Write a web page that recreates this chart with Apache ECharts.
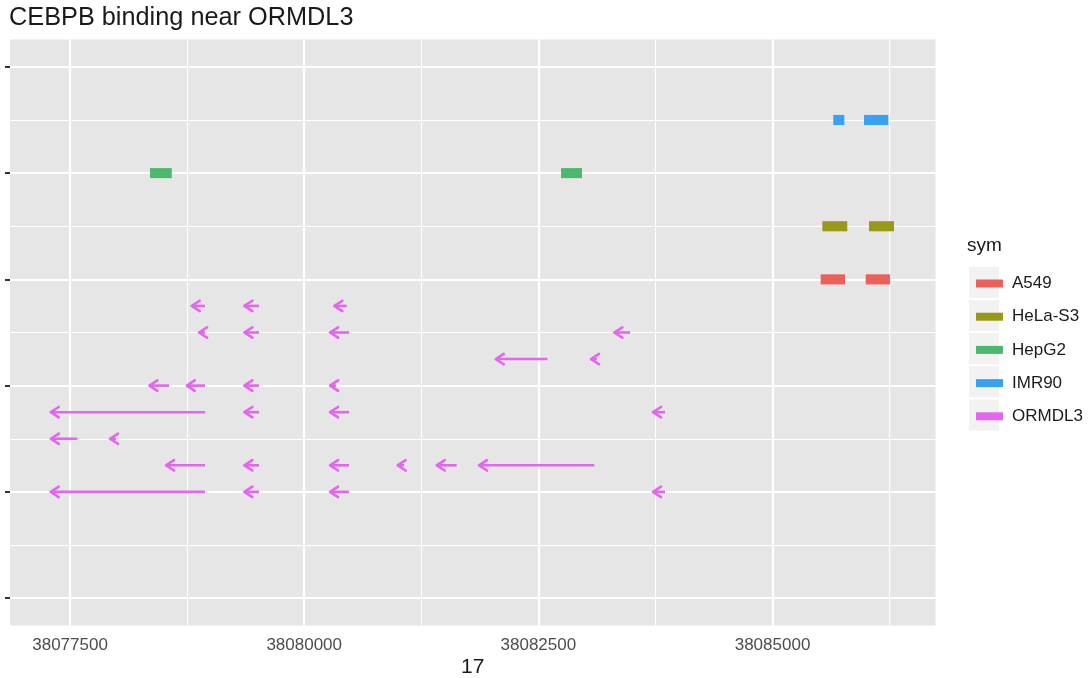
<!DOCTYPE html>
<html>
<head>
<meta charset="utf-8">
<script src="https://cdn.jsdelivr.net/npm/echarts@6/dist/echarts.min.js"></script>
<style>
html,body{margin:0;padding:0;background:#fff;}
#chart{width:1088px;height:678px;}
</style>
</head>
<body>
<div id="chart"></div>
<script>
// ---- data ----
const titleText = 'CEBPB binding near ORMDL3';
const xAxisName = '17';
const legendTitle = 'sym';
const seriesNames = ['A549', 'HeLa-S3', 'HepG2', 'IMR90', 'ORMDL3'];
const xTicks = [38077500, 38080000, 38082500, 38085000];
const xMinor = [38078750, 38081250, 38083750, 38086250];
const yMajor = [0, 4, 8, 12, 16, 20];
const yMinor = [2, 6, 10, 14, 18];
const xLimits = [38076859, 38086740];
const yLimits = [-1.03, 21.03];

// [start, end, row]
const a549 = [[38085514, 38085774, 12], [38085995, 38086254, 12]];
const helaS3 = [[38085532, 38085798, 14], [38086030, 38086297, 14]];
const hepG2 = [[38078354, 38078586, 16], [38082742, 38082966, 16]];
const imr90 = [[38085649, 38085767, 18], [38085977, 38086236, 18]];
// ORMDL3 exons (minus strand): [start(head), end(tail), row]
const ormdl3 = [
  [38078799, 38078941, 11], [38079361, 38079518, 11], [38080322, 38080454, 11],
  [38078877, 38078941, 10], [38079361, 38079518, 10], [38080276, 38080479, 10], [38083311, 38083479, 10],
  [38082045, 38082596, 9], [38083062, 38083126, 9],
  [38078347, 38078557, 8], [38078746, 38078941, 8], [38079361, 38079518, 8], [38080276, 38080340, 8],
  [38077294, 38078941, 7], [38079361, 38079518, 7], [38080276, 38080479, 7], [38083724, 38083852, 7],
  [38077294, 38077578, 6], [38077927, 38077991, 6],
  [38078525, 38078941, 5], [38079361, 38079518, 5], [38080276, 38080479, 5], [38080998, 38081066, 5],
  [38081415, 38081628, 5], [38081866, 38083097, 5],
  [38077294, 38078941, 4], [38079361, 38079518, 4], [38080276, 38080479, 4], [38083724, 38083852, 4]
];

// ---- styles ----
const colors = {
  'A549': '#EC605C',
  'HeLa-S3': '#98981A',
  'HepG2': '#4CB86E',
  'IMR90': '#38A2F2',
  'ORMDL3': '#E266EE'
};
const FONT = '"Liberation Sans", Arial, Helvetica, sans-serif';
const RECT_HALF = 0.19;
const HEAD_L = 8, HEAD_H = 5.2, LW = 2.6;

function rectRender(params, api) {
  const y = api.value(2);
  const p0 = api.coord([api.value(0), y + RECT_HALF]);
  const p1 = api.coord([api.value(1), y - RECT_HALF]);
  return {
    type: 'rect',
    shape: { x: p0[0], y: p0[1], width: p1[0] - p0[0], height: p1[1] - p0[1] },
    style: { fill: api.visual('color') }
  };
}
function arrowRender(params, api) {
  const y = api.value(2);
  const s = api.coord([api.value(0), y]);
  const e = api.coord([api.value(1), y]);
  const c = api.visual('color');
  return {
    type: 'group',
    children: [
      { type: 'line', shape: { x1: e[0], y1: e[1], x2: s[0] + 1.5, y2: s[1] },
        style: { stroke: c, lineWidth: LW } },
      { type: 'polyline', shape: { points: [[s[0] + HEAD_L, s[1] - HEAD_H], [s[0], s[1]], [s[0] + HEAD_L, s[1] + HEAD_H]] },
        style: { stroke: c, fill: null, lineWidth: LW, lineJoin: 'round', lineCap: 'round' } }
    ]
  };
}

function rectSeries(name, data) {
  return {
    name: name, type: 'custom', renderItem: rectRender, data: data,
    encode: { x: [0, 1], y: 2 }, itemStyle: { color: colors[name] }, z: 10
  };
}

const gridLines = [];
yMajor.forEach(v => gridLines.push({ yAxis: v, lineStyle: { color: '#ffffff', width: 2.2, type: 'solid' } }));
yMinor.forEach(v => gridLines.push({ yAxis: v, lineStyle: { color: '#ffffff', width: 1.1, type: 'solid' } }));
xTicks.forEach(v => gridLines.push({ xAxis: v, lineStyle: { color: '#ffffff', width: 2.2, type: 'solid' } }));
xMinor.forEach(v => gridLines.push({ xAxis: v, lineStyle: { color: '#ffffff', width: 1.1, type: 'solid' } }));

// legend key backgrounds (layout decoration)
const legendCenters = [282.3, 315.5, 348.7, 381.9, 415.1];
const graphics = legendCenters.map(cy => ({
  type: 'rect', left: 969, top: cy - 15.5, shape: { width: 30, height: 31 },
  style: { fill: '#F2F2F2' }, z: 0, silent: true
}));
graphics.push({
  type: 'text', left: 967, top: 236,
  style: { text: legendTitle, font: '19px ' + FONT, fill: '#1a1a1a' }, z: 5
});

const chart = echarts.init(document.getElementById('chart'), null, { renderer: 'canvas' });
chart.setOption({
  animation: false,
  backgroundColor: '#ffffff',
  title: {
    text: titleText, left: 9, top: 6, padding: 0,
    textStyle: { fontFamily: FONT, fontSize: 25.3, fontWeight: 'normal', color: '#1a1a1a' }
  },
  grid: { left: 10, right: 152.5, top: 39.5, bottom: 52.5, show: true, backgroundColor: '#E6E6E6', borderWidth: 0,
    containLabel: false, outerBoundsMode: 'none' },
  xAxis: {
    type: 'value', min: xLimits[0], max: xLimits[1],
    name: xAxisName, nameLocation: 'middle', nameGap: 31, nameMoveOverlap: false,
    nameTextStyle: { fontFamily: FONT, fontSize: 21, color: '#1a1a1a' },
    axisLine: { show: false },
    axisTick: { show: true, customValues: xTicks, length: 5, lineStyle: { color: '#333333', width: 2 } },
    axisLabel: { show: true, customValues: xTicks, margin: 11, formatter: v => String(v),
      fontFamily: FONT, fontSize: 17, color: '#4D4D4D' },
    splitLine: { show: false }
  },
  yAxis: {
    type: 'value', min: yLimits[0], max: yLimits[1],
    axisLine: { show: false },
    axisTick: { show: true, customValues: yMajor, length: 5, lineStyle: { color: '#333333', width: 2 } },
    axisLabel: { show: false },
    splitLine: { show: false }
  },
  legend: {
    data: seriesNames, orient: 'vertical', left: 971, top: 270,
    icon: 'rect', itemWidth: 27, itemHeight: 8, itemGap: 16.2,
    selectedMode: false,
    textStyle: { fontFamily: FONT, fontSize: 17, color: '#1a1a1a', lineHeight: 17, padding: [0, 0, 0, 4] }
  },
  graphic: graphics,
  series: [
    {
      name: '__grid', type: 'line', data: [], z: 1, silent: true,
      markLine: { silent: true, z: 1, symbol: ['none', 'none'], label: { show: false }, animation: false, data: gridLines }
    },
    rectSeries('A549', a549),
    rectSeries('HeLa-S3', helaS3),
    rectSeries('HepG2', hepG2),
    rectSeries('IMR90', imr90),
    {
      name: 'ORMDL3', type: 'custom', renderItem: arrowRender, data: ormdl3,
      encode: { x: [0, 1], y: 2 }, itemStyle: { color: colors['ORMDL3'] }, z: 10
    }
  ]
});
</script>
</body>
</html>
